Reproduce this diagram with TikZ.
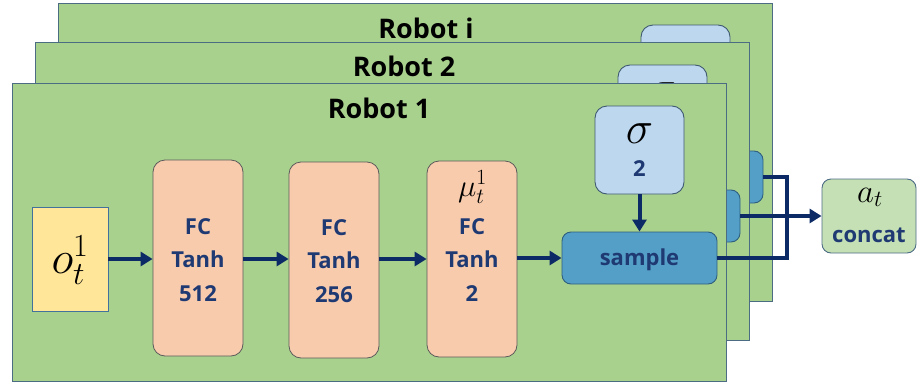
\RequirePackage{fix-cm}
\documentclass[tikz,border=0pt]{standalone}
\usepackage[no-math]{fontspec}
\setmainfont{Open Sans}
\usetikzlibrary{arrows.meta}

\definecolor{panelgreen}{HTML}{A9D18E}
\definecolor{panelline}{HTML}{4C6C84}
\definecolor{fcfill}{HTML}{F8CBAD}
\definecolor{fcline}{HTML}{5A5A5A}
\definecolor{infill}{HTML}{FFE699}
\definecolor{inline}{HTML}{41719C}
\definecolor{sigfill}{HTML}{BDD7EE}
\definecolor{sigline}{HTML}{3E5A70}
\definecolor{samplefill}{HTML}{549FC8}
\definecolor{sampleline}{HTML}{2F5F7E}
\definecolor{outfill}{HTML}{C5E0B4}
\definecolor{outline}{HTML}{4C6C84}
\definecolor{navy}{HTML}{0C2A66}
\definecolor{labelnavy}{HTML}{1F3A73}

\tikzset{
  panel/.style={draw=panelline, line width=1.2pt, fill=panelgreen,
    minimum width=714pt, minimum height=298pt, anchor=north west, inner sep=0pt},
  title/.style={font=\bfseries\fontsize{27}{27}\selectfont, anchor=base, inner sep=0pt},
  layer/.style={draw=fcline, line width=0.8pt, fill=fcfill, rounded corners=12pt,
    minimum width=90pt, minimum height=196pt, inner sep=0pt},
  inbox/.style={draw=inline, line width=0.9pt, fill=infill,
    minimum width=76pt, minimum height=104pt, inner sep=0pt},
  sigbox/.style={draw=sigline, line width=0.9pt, fill=sigfill, rounded corners=12pt,
    minimum width=89pt, minimum height=88pt, inner sep=0pt},
  samplebox/.style={draw=sampleline, line width=0.9pt, fill=samplefill, rounded corners=9pt,
    minimum width=155pt, minimum height=52pt, inner sep=0pt},
  outbox/.style={draw=outline, line width=0.9pt, fill=outfill, rounded corners=9pt,
    minimum width=94pt, minimum height=74pt, inner sep=0pt},
  lbl/.style={font=\bfseries\fontsize{22}{22}\selectfont, text=labelnavy, anchor=base, inner sep=0pt},
  mathlbl/.style={anchor=base, inner sep=0pt},
  flow/.style={draw=navy, line width=4pt, -{Triangle[length=12pt,width=14pt]}},
  bus/.style={draw=navy, line width=4pt}
}

\begin{document}
\begin{tikzpicture}[x=1pt, y=-1pt]
\useasboundingbox (0,0) rectangle (917,383);

% ---- back panel: Robot i ----
\node[panel] (pi) at (58,3) {};
\node[title] (ti) at (426,38) {Robot i};
\node[sigbox] (sigi) at (685.5,69) {};
\node[mathlbl] (sigmai) at (685.5,62) {\fontsize{46}{46}\selectfont$\sigma$};
\node[samplebox] (si) at (685.5,177) {};

% ---- middle panel: Robot 2 ----
\node[panel] (p2) at (35,42) {};
\node[title] (t2) at (404,76) {Robot 2};
\node[sigbox] (sig2) at (662.5,109) {};
\node[mathlbl] (sigma2) at (662.5,102) {\fontsize{46}{46}\selectfont$\sigma$};
\node[samplebox] (s2) at (662.5,216) {};

% ---- front panel: Robot 1 ----
\node[panel] (p1) at (12,83) {};
\node[title] (t1) at (379,118) {Robot 1};

\node[inbox] (obs) at (70,259) {};
\node[mathlbl] (obstxt) at (70,273) {\fontsize{46}{46}\selectfont$o_t^1$};

\node[layer] (fc1) at (198,258) {};
\node[lbl] at (198,234) {FC};
\node[lbl] at (198,267) {Tanh};
\node[lbl] at (198,301) {512};

\node[layer] (fc2) at (334,260) {};
\node[lbl] at (334,235) {FC};
\node[lbl] at (334,268) {Tanh};
\node[lbl] at (334,302) {256};

\node[layer] (fc3) at (472,259) {};
\node[mathlbl] (mu) at (472.5,196) {\fontsize{31}{31}\selectfont$\mu_t^1$};
\node[lbl] at (472,234) {FC};
\node[lbl] at (472,267) {Tanh};
\node[lbl] at (472,301) {2};

\node[sigbox] (sig1) at (639.5,150) {};
\node[mathlbl] (sigma1) at (639.5,143) {\fontsize{46}{46}\selectfont$\sigma$};
\node[lbl] at (639.5,176) {2};

\node[samplebox] (s1) at (639.5,258) {};
\node[lbl] at (639.5,265) {sample};

% ---- output ----
\node[outbox] (out) at (869,216) {};
\node[mathlbl] (atxt) at (870,202) {\fontsize{33}{33}\selectfont$a_t$};
\node[lbl] at (869,242) {concat};

% ---- connectors ----
\draw[flow] (obs.east) -- (fc1.west |- obs.east);
\draw[flow] (fc1.east |- obs.east) -- (fc2.west |- obs.east);
\draw[flow] (fc2.east |- obs.east) -- (fc3.west |- obs.east);
\draw[flow] (fc3.east |- s1.west) -- (s1.west);
\draw[flow] (sig1.south) -- (s1.north);

\coordinate (junc) at (787,217);
\draw[bus] (s1.east) -| (junc) |- (si.east);
\draw[flow] (s2.east) -- (out.west);
\end{tikzpicture}
\end{document}
